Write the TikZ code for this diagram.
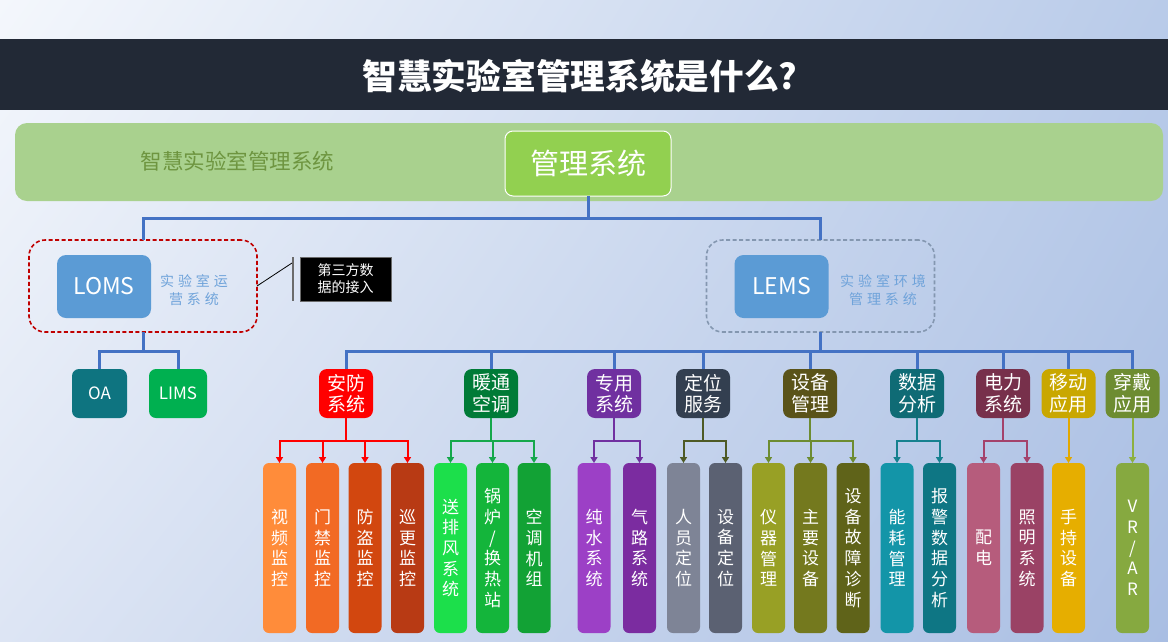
\documentclass[tikz,border=0pt]{standalone}
\usepackage{fontspec}
\setmainfont{Noto Sans CJK SC}
\newfontfamily\spc{Noto Sans CJK SC}[LetterSpace=28]
\usetikzlibrary{arrows.meta,shadings}
\definecolor{bgUL}{HTML}{F4F7FC}
\definecolor{bgUR}{HTML}{B9CBE9}
\definecolor{bgLL}{HTML}{DDE5F4}
\definecolor{bgLR}{HTML}{A9BEE3}
\definecolor{titlebg}{HTML}{222936}
\definecolor{band}{HTML}{A9D18E}
\definecolor{bandtext}{HTML}{6E9540}
\definecolor{mgreen}{HTML}{92D050}
\definecolor{conblue}{HTML}{4472C4}
\definecolor{dred}{HTML}{C00000}
\definecolor{dgray}{HTML}{8497B0}
\definecolor{sysblue}{HTML}{5B9BD5}
\definecolor{lbl}{HTML}{6FA3DA}
\definecolor{oacol}{HTML}{0E7480}
\definecolor{limscol}{HTML}{00B050}
\definecolor{barcol}{HTML}{6B6B6B}
% categories
\definecolor{cA}{HTML}{FF0000}
\definecolor{cB}{HTML}{007B37}
\definecolor{cC}{HTML}{7030A0}
\definecolor{cD}{HTML}{333F50}
\definecolor{cE}{HTML}{5A5319}
\definecolor{cF}{HTML}{0F6B75}
\definecolor{cG}{HTML}{77304B}
\definecolor{cH}{HTML}{C9A700}
\definecolor{cI}{HTML}{6D8C31}
% connector colours
\definecolor{kA}{HTML}{FF0000}
\definecolor{kB}{HTML}{15A84B}
\definecolor{kC}{HTML}{7030A0}
\definecolor{kD}{HTML}{4E5A25}
\definecolor{kE}{HTML}{6D8C31}
\definecolor{kF}{HTML}{16818F}
\definecolor{kG}{HTML}{A4426B}
\definecolor{kH}{HTML}{E2A800}
\definecolor{kI}{HTML}{8DB03F}
% leaves
\definecolor{l1}{HTML}{FF8C3A}
\definecolor{l2}{HTML}{F26A24}
\definecolor{l3}{HTML}{D2470F}
\definecolor{l4}{HTML}{B83A14}
\definecolor{l5}{HTML}{1CDF4B}
\definecolor{l6}{HTML}{14B53B}
\definecolor{l7}{HTML}{12A235}
\definecolor{l8}{HTML}{9C40C6}
\definecolor{l9}{HTML}{7B2CA0}
\definecolor{l10}{HTML}{7E8496}
\definecolor{l11}{HTML}{5B6172}
\definecolor{l12}{HTML}{98A025}
\definecolor{l13}{HTML}{74791E}
\definecolor{l14}{HTML}{5F6319}
\definecolor{l15}{HTML}{1395A8}
\definecolor{l16}{HTML}{0E7684}
\definecolor{l17}{HTML}{B65C7C}
\definecolor{l18}{HTML}{9A4265}
\definecolor{l19}{HTML}{E6AE00}
\definecolor{l20}{HTML}{86A940}
\tikzset{
  sysbox/.style={fill=sysblue, rounded corners=9pt, minimum width=94, minimum height=63, text=white, font=\fontsize{23}{23}\selectfont},
  grpbox/.style={rounded corners=16pt, minimum width=228, minimum height=92, line width=1.6pt, dash pattern=on 4pt off 2.5pt},
  syslbl/.style={text=lbl, font=\spc\fontsize{14}{18}\selectfont, align=center},
  smallbox/.style={rounded corners=7pt, minimum height=49, text=white, font=\fontsize{17}{17}\selectfont},
  catbox/.style={rounded corners=8pt, minimum width=54, minimum height=49, text=white, font=\fontsize{19}{21.5}\selectfont, align=center},
  leafbox/.style={rounded corners=6pt, minimum width=33, minimum height=170, text=white, font=\fontsize{17}{20.7}\selectfont, align=center},
  bluecon/.style={draw=conblue, line width=3pt},
  catcon/.style={line width=2pt, -{Triangle[width=7pt,length=6pt]}},
}
\begin{document}
\begin{tikzpicture}[x=1pt,y=-1pt, every node/.style={inner sep=0pt, outer sep=0pt}]
\useasboundingbox (0,0) rectangle (1168,641);
\shade[upper left=bgUL, upper right=bgUR, lower left=bgLL, lower right=bgLR] (0,0) rectangle (1168,641);
% title
\fill[titlebg] (0,39) rectangle (1168,110);
\node[text=white, font=\fontsize{34.7}{34.7}\selectfont\bfseries] (title) at (580,76) {智慧实验室管理系统是什么?};
% band
\node[fill=band, rounded corners=12pt, minimum width=1148, minimum height=78] (band) at (589,162) {};
\node[text=bandtext, font=\fontsize{21.5}{21.5}\selectfont] (bandlbl) at (237.5,161) {智慧实验室管理系统};
\node[fill=mgreen, draw=white, line width=1pt, rounded corners=8pt, minimum width=166, minimum height=65, text=white, font=\fontsize{29}{29}\selectfont] (mgmt) at (588,163.5) {管理系统};
% groups
\node[grpbox, draw=dred] (lomsgrp) at (143,286) {};
\node[sysbox] (loms) at (104,286.5) {LOMS};
\node[syslbl] (lomslbl) at (194,290) {实验室运\\营系统};
\node[grpbox, draw=dgray] (lemsgrp) at (820.5,286) {};
\node[sysbox] (lems) at (781.5,286.5) {LEMS};
\node[syslbl] (lemslbl) at (883,290) {实验室环境\\管理系统};
% callout
\node[fill=barcol, minimum width=2, minimum height=44] (bar) at (293,278.5) {};
\coordinate (calpt) at (292,263);
\draw[black, line width=0.8pt] (lomsgrp.east) -- (calpt);
\node[fill=black, draw=barcol, line width=0.6pt, text=white, font=\fontsize{14}{17}\selectfont, align=center, minimum width=91, minimum height=44] (third) at (345.5,279) {第三方数\\据的接入};
% OA / LIMS
\node[smallbox, fill=oacol, minimum width=55] (oa) at (99.5,393.5) {OA};
\node[smallbox, fill=limscol, minimum width=58] (lims) at (178,393.5) {LIMS};
% blue connectors
\draw[bluecon] (mgmt.south) -- ++(0,22) -| (lomsgrp.north);
\draw[bluecon] (mgmt.south) -- ++(0,22) -| (lemsgrp.north);
\draw[bluecon] (lomsgrp.south) -- ++(0,19) -| (oa.north);
\draw[bluecon] (lomsgrp.south) -- ++(0,19) -| (lims.north);
% categories
\node[catbox, fill=cA] (anfang) at (346,393.5) {安防\\系统};
\node[catbox, fill=cB] (nuantong) at (491,393.5) {暖通\\空调};
\node[catbox, fill=cC] (zhuanyong) at (614,393.5) {专用\\系统};
\node[catbox, fill=cD] (dingwei) at (703,393.5) {定位\\服务};
\node[catbox, fill=cE] (shebei) at (810,393.5) {设备\\管理};
\node[catbox, fill=cF] (shuju) at (917,393.5) {数据\\分析};
\node[catbox, fill=cG] (dianli) at (1003,393.5) {电力\\系统};
\node[catbox, fill=cH] (yidong) at (1068.5,393.5) {移动\\应用};
\node[catbox, fill=cI] (chuandai) at (1132.5,393.5) {穿戴\\应用};
\foreach \c in {anfang,nuantong,zhuanyong,dingwei,shebei,shuju,dianli,yidong,chuandai}
  \draw[bluecon] (lemsgrp.south) -- ++(0,19) -| (\c.north);
% leaves
\node[leafbox, fill=l1] (a1) at (279.5,548) {视\\频\\监\\控};
\node[leafbox, fill=l2] (a2) at (322.5,548) {门\\禁\\监\\控};
\node[leafbox, fill=l3] (a3) at (365,548) {防\\盗\\监\\控};
\node[leafbox, fill=l4] (a4) at (407.5,548) {巡\\更\\监\\控};
\node[leafbox, fill=l5] (b1) at (450.5,548) {送\\排\\风\\系\\统};
\node[leafbox, fill=l6] (b2) at (492.5,548) {锅\\炉\\/\\换\\热\\站};
\node[leafbox, fill=l7] (b3) at (534,548) {空\\调\\机\\组};
\node[leafbox, fill=l8] (c1) at (594,548) {纯\\水\\系\\统};
\node[leafbox, fill=l9] (c2) at (639.5,548) {气\\路\\系\\统};
\node[leafbox, fill=l10] (d1) at (683.5,548) {人\\员\\定\\位};
\node[leafbox, fill=l11] (d2) at (725.5,548) {设\\备\\定\\位};
\node[leafbox, fill=l12] (e1) at (768.5,548) {仪\\器\\管\\理};
\node[leafbox, fill=l13] (e2) at (810.5,548) {主\\要\\设\\备};
\node[leafbox, fill=l14] (e3) at (853,548) {设\\备\\故\\障\\诊\\断};
\node[leafbox, fill=l15] (f1) at (897,548) {能\\耗\\管\\理};
\node[leafbox, fill=l16] (f2) at (939.5,548) {报\\警\\数\\据\\分\\析};
\node[leafbox, fill=l17] (g1) at (983.5,548) {配\\电};
\node[leafbox, fill=l18] (g2) at (1027,548) {照\\明\\系\\统};
\node[leafbox, fill=l19] (h1) at (1068.5,548) {手\\持\\设\\备};
\node[leafbox, fill=l20] (i1) at (1132.5,548) {V\\R\\/\\A\\R};
% category connectors
\foreach \l in {a1,a2,a3,a4} \draw[catcon, draw=kA] (anfang.south) -- ++(0,22.5) -| (\l.north);
\foreach \l in {b1,b2,b3} \draw[catcon, draw=kB] (nuantong.south) -- ++(0,22.5) -| (\l.north);
\foreach \l in {c1,c2} \draw[catcon, draw=kC] (zhuanyong.south) -- ++(0,22.5) -| (\l.north);
\foreach \l in {d1,d2} \draw[catcon, draw=kD] (dingwei.south) -- ++(0,22.5) -| (\l.north);
\foreach \l in {e1,e2,e3} \draw[catcon, draw=kE] (shebei.south) -- ++(0,22.5) -| (\l.north);
\foreach \l in {f1,f2} \draw[catcon, draw=kF] (shuju.south) -- ++(0,22.5) -| (\l.north);
\foreach \l in {g1,g2} \draw[catcon, draw=kG] (dianli.south) -- ++(0,22.5) -| (\l.north);
\draw[catcon, draw=kH] (yidong.south) -- (h1.north);
\draw[catcon, draw=kI] (chuandai.south) -- (i1.north);
\end{tikzpicture}
\end{document}
